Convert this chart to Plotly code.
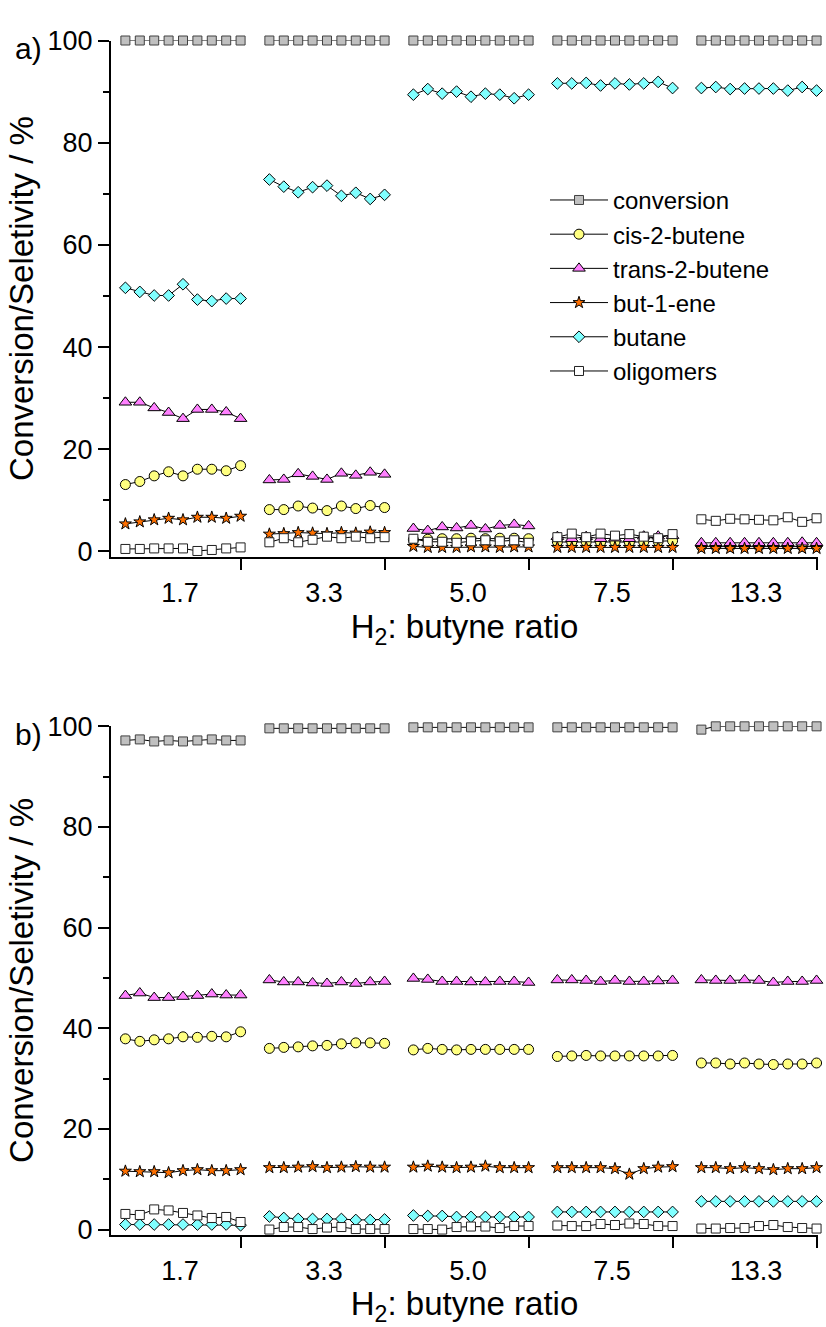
import plotly.graph_objects as go

ratio_labels = ["1.7", "3.3", "5.0", "7.5", "13.3"]
series_names = ["conversion", "cis-2-butene", "trans-2-butene", "but-1-ene", "butane", "oligomers"]

# ---- panel a) ----
a_conversion = [[100]*9, [100]*9, [100]*9, [100]*9, [100]*9]
a_cis = [
    [13.1, 13.7, 14.8, 15.6, 14.8, 16.1, 16.1, 15.8, 16.8],
    [8.2, 8.2, 8.9, 8.5, 8.0, 8.9, 8.4, 9.0, 8.6],
    [2.3, 2.4, 2.5, 2.5, 2.6, 2.5, 2.6, 2.6, 2.5],
    [1.9, 1.8, 1.9, 1.8, 1.9, 1.8, 1.9, 2.0, 2.1],
    [1.0, 1.0, 1.0, 1.0, 1.0, 1.0, 1.0, 1.0, 1.0],
]
a_trans = [
    [29.2, 29.2, 28.1, 27.2, 26.0, 27.8, 27.8, 27.3, 26.0],
    [14.0, 14.1, 15.2, 14.7, 14.1, 15.3, 14.9, 15.5, 15.1],
    [4.5, 4.1, 4.8, 4.6, 5.1, 4.4, 5.1, 5.3, 5.0],
    [2.9, 2.5, 2.9, 2.5, 2.6, 2.5, 3.0, 3.0, 3.1],
    [1.7, 1.7, 1.7, 1.7, 1.7, 1.7, 1.7, 1.8, 1.7],
]
a_but1ene = [
    [5.4, 5.8, 6.2, 6.5, 6.2, 6.7, 6.7, 6.5, 6.9],
    [3.4, 3.5, 3.7, 3.6, 3.5, 3.7, 3.6, 3.8, 3.7],
    [1.0, 0.8, 0.8, 0.8, 0.9, 0.9, 0.8, 0.9, 0.9],
    [0.8, 0.8, 0.8, 0.8, 0.8, 0.8, 0.8, 0.8, 0.8],
    [0.6, 0.6, 0.6, 0.6, 0.6, 0.6, 0.6, 0.6, 0.6],
]
a_butane = [
    [51.6, 50.8, 50.1, 50.1, 52.3, 49.3, 49.0, 49.5, 49.5],
    [72.8, 71.4, 70.3, 71.3, 71.6, 69.6, 70.2, 69.0, 69.8],
    [89.4, 90.5, 89.6, 90.0, 89.0, 89.6, 89.4, 88.7, 89.4],
    [91.6, 91.6, 91.7, 91.2, 91.6, 91.4, 91.6, 91.9, 90.7],
    [90.7, 90.9, 90.5, 90.6, 90.6, 90.6, 90.2, 90.9, 90.2],
]
a_oligomers = [
    [0.5, 0.5, 0.6, 0.6, 0.6, 0.1, 0.3, 0.6, 0.8],
    [1.8, 2.6, 1.8, 2.3, 2.9, 2.6, 2.9, 2.6, 2.8],
    [2.5, 1.9, 1.9, 1.7, 2.0, 2.2, 2.0, 2.2, 1.7],
    [2.8, 3.5, 2.8, 3.5, 3.1, 3.4, 2.9, 2.6, 3.4],
    [6.3, 6.0, 6.4, 6.3, 6.2, 6.1, 6.7, 5.8, 6.5],
]

# ---- panel b) ----
b_conversion = [
    [97.2, 97.4, 97.0, 97.2, 97.0, 97.2, 97.4, 97.2, 97.2],
    [99.6, 99.6, 99.6, 99.6, 99.6, 99.6, 99.6, 99.6, 99.6],
    [99.8, 99.8, 99.8, 99.8, 99.8, 99.8, 99.8, 99.8, 99.8],
    [99.8, 99.8, 99.8, 99.8, 99.8, 99.8, 99.8, 99.8, 99.8],
    [99.35, 100, 100, 100, 100, 100, 100, 100, 100],
]
b_cis = [
    [37.9, 37.4, 37.7, 37.9, 38.3, 38.2, 38.4, 38.3, 39.3],
    [36.0, 36.2, 36.3, 36.5, 36.6, 36.9, 37.1, 37.1, 37.0],
    [35.7, 36.0, 35.8, 35.7, 35.8, 35.8, 35.8, 35.8, 35.8],
    [34.4, 34.5, 34.6, 34.5, 34.5, 34.5, 34.5, 34.5, 34.6],
    [33.1, 33.1, 32.9, 33.1, 32.9, 32.8, 32.9, 32.9, 33.1],
]
b_trans = [
    [46.5, 47.0, 46.1, 46.1, 46.3, 46.5, 46.8, 46.6, 46.6],
    [49.6, 49.2, 49.2, 49.0, 48.9, 49.2, 48.9, 49.2, 49.3],
    [49.9, 49.7, 49.3, 49.3, 49.2, 49.2, 49.3, 49.3, 49.1],
    [49.6, 49.6, 49.5, 49.3, 49.5, 49.3, 49.3, 49.4, 49.5],
    [49.6, 49.5, 49.5, 49.6, 49.5, 49.1, 49.3, 49.3, 49.5],
]
b_but1ene = [
    [11.6, 11.5, 11.5, 11.3, 11.7, 11.9, 11.7, 11.7, 11.9],
    [12.3, 12.3, 12.4, 12.5, 12.3, 12.4, 12.5, 12.4, 12.4],
    [12.4, 12.6, 12.4, 12.3, 12.4, 12.6, 12.3, 12.3, 12.3],
    [12.3, 12.3, 12.3, 12.3, 12.1, 11.0, 12.1, 12.4, 12.5],
    [12.3, 12.3, 12.1, 12.3, 12.1, 11.9, 12.1, 12.1, 12.3],
]
b_butane = [
    [1.0, 1.0, 1.0, 1.0, 1.0, 1.0, 1.0, 1.0, 0.85],
    [2.6, 2.3, 2.1, 2.1, 2.1, 2.1, 1.9, 1.9, 2.0],
    [2.8, 2.7, 2.7, 2.5, 2.5, 2.5, 2.5, 2.5, 2.5],
    [3.5, 3.5, 3.5, 3.5, 3.5, 3.5, 3.5, 3.5, 3.5],
    [5.6, 5.6, 5.6, 5.6, 5.6, 5.6, 5.6, 5.6, 5.6],
]
b_oligomers = [
    [3.1, 2.9, 4.0, 3.8, 3.3, 2.8, 2.3, 2.5, 1.5],
    [0.0, 0.5, 0.5, 0.1, 0.4, 0.5, 0.1, 0.1, 0.1],
    [0.1, 0.1, 0.0, 0.5, 0.6, 0.6, 0.3, 0.7, 0.7],
    [0.8, 0.7, 0.7, 1.1, 0.9, 1.2, 1.1, 0.7, 0.7],
    [0.2, 0.2, 0.3, 0.3, 0.7, 0.9, 0.5, 0.3, 0.2],
]

styles = [
    dict(symbol="square", size=9, color="#C0C0C0", line=dict(color="#404040", width=1)),
    dict(symbol="circle", size=10, color="#FFFF80", line=dict(color="#000000", width=1)),
    dict(symbol="triangle-up", size=11, color="#FF80FF", line=dict(color="#000000", width=1)),
    dict(symbol="star", size=9, color="#FF7000", line=dict(color="#000000", width=1)),
    dict(symbol="diamond", size=9, color="#80FFFF", line=dict(color="#000000", width=1)),
    dict(symbol="square", size=9, color="#FFFFFF", line=dict(color="#202020", width=1)),
]

def build_xy(groups):
    xs, ys = [], []
    for g, vals in enumerate(groups):
        if g > 0:
            xs.append(None); ys.append(None)
        for j, v in enumerate(vals):
            xs.append(g * 10 + j + 1)
            ys.append(v)
    return xs, ys

FONT = "Liberation Sans, Arial, sans-serif"
fig = go.Figure()

panel_a = [a_conversion, a_cis, a_trans, a_but1ene, a_butane, a_oligomers]
panel_b = [b_conversion, b_cis, b_trans, b_but1ene, b_butane, b_oligomers]

for i, (name, groups) in enumerate(zip(series_names, panel_a)):
    xs, ys = build_xy(groups)
    fig.add_trace(go.Scatter(x=xs, y=ys, mode="lines+markers", name=name,
                             line=dict(color="#000000", width=1), marker=styles[i],
                             cliponaxis=False, connectgaps=False,
                             xaxis="x", yaxis="y", showlegend=True))
for i, (name, groups) in enumerate(zip(series_names, panel_b)):
    xs, ys = build_xy(groups)
    fig.add_trace(go.Scatter(x=xs, y=ys, mode="lines+markers", name=name,
                             line=dict(color="#000000", width=1), marker=styles[i],
                             cliponaxis=False, connectgaps=False,
                             xaxis="x2", yaxis="y2", showlegend=False))

W, H = 826, 1327
xdom = [111 / W, 818 / W]
ya_dom = [1 - 552 / H, 1 - 26 / H]
yb_dom = [1 - 1243 / H, 1 - 725 / H]

group_centers = [g * 10 + 4.8 for g in range(len(ratio_labels))]
separators = [g * 10 + 9 for g in range(len(ratio_labels))]

def xaxis_cfg(anchor):
    return dict(domain=xdom, anchor=anchor, range=[0, 49.1],
                showline=True, linewidth=2, linecolor="black", mirror=False,
                showgrid=False, zeroline=False,
                tickmode="array", tickvals=group_centers, ticktext=ratio_labels,
                ticks="outside", ticklen=11, tickcolor="rgba(0,0,0,0)", tickwidth=2,
                tickfont=dict(family=FONT, size=27, color="black"),
                minor=dict(tickmode="array", tickvals=separators, ticks="outside",
                           ticklen=11, tickwidth=2, tickcolor="black", showgrid=False),
                title=dict(text="H<sub>2</sub>: butyne ratio", standoff=2,
                           font=dict(family=FONT, size=33, color="black")))

def yaxis_cfg(anchor, dom):
    return dict(domain=dom, anchor=anchor, range=[-1, 100],
                showline=True, linewidth=2, linecolor="black", mirror=False,
                showgrid=False, zeroline=False,
                tickmode="array", tickvals=[0, 20, 40, 60, 80, 100],
                ticks="outside", ticklen=11, tickwidth=2, tickcolor="black",
                tickfont=dict(family=FONT, size=27, color="black"),
                minor=dict(tickmode="array", tickvals=[10, 30, 50, 70, 90], ticks="outside",
                           ticklen=6, tickwidth=2, tickcolor="black", showgrid=False),
                title=dict(text="Conversion/Seletivity / %", standoff=4,
                           font=dict(family=FONT, size=33, color="black")))

fig.update_layout(
    width=W, height=H,
    margin=dict(l=0, r=0, t=0, b=0),
    paper_bgcolor="white", plot_bgcolor="white",
    xaxis=xaxis_cfg("y"), yaxis=yaxis_cfg("x", ya_dom),
    xaxis2=xaxis_cfg("y2"), yaxis2=yaxis_cfg("x2", yb_dom),
    legend=dict(x=545 / W, y=1 - 166 / H, xanchor="left", yanchor="top",
                bgcolor="rgba(0,0,0,0)", itemwidth=58, tracegroupgap=0,
                font=dict(family=FONT, size=24, color="black")),
    annotations=[
        dict(text="a)", x=28 / W, y=1 - 34 / H, xref="paper", yref="paper",
             xanchor="center", yanchor="middle",
             showarrow=False, font=dict(family=FONT, size=30, color="black")),
        dict(text="b)", x=28 / W, y=1 - 733 / H, xref="paper", yref="paper",
             xanchor="center", yanchor="middle",
             showarrow=False, font=dict(family=FONT, size=30, color="black")),
    ],
)

fig.write_html("out.html")
